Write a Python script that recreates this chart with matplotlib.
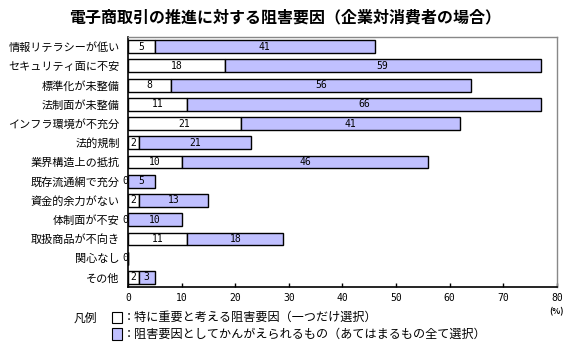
import matplotlib
matplotlib.use("Agg")
import matplotlib.pyplot as plt
from matplotlib.patches import Rectangle

plt.rcParams['font.family'] = ['Noto Sans CJK JP', 'DejaVu Sans']

categories = ['情報リテラシーが低い', 'セキュリティ面に不安', '標準化が未整備', '法制面が未整備',
              'インフラ環境が不充分', '法的規制', '業界構造上の抵抗', '既存流通網で充分',
              '資金的余力がない', '体制面が不安', '取扱商品が不向き', '関心なし', 'その他']
# 特に重要と考える阻害要因（一つだけ選択）
most_important = [5, 18, 8, 11, 21, 2, 10, 0, 2, 0, 11, 0, 2]
# 阻害要因としてかんがえられるもの（あてはまるもの全て選択）
all_factors = [41, 59, 56, 66, 41, 21, 46, 5, 13, 10, 18, 0, 3]
x_ticks = [0, 10, 20, 30, 40, 50, 60, 70, 80]

white = '#ffffff'
blue = '#c0c0ff'
num_font = dict(family='DejaVu Sans Mono', fontsize=7)

fig = plt.figure(figsize=(5.7, 3.5), dpi=100)
ax = fig.add_axes([0.2246, 0.18, 0.7524, 0.714])

n = len(categories)
ypos = list(range(n))
h = 0.67

ax.barh(ypos, most_important, height=h, color=white, edgecolor='black', linewidth=1.0, zorder=3)
ax.barh(ypos, all_factors, left=most_important, height=h, color=blue, edgecolor='black',
        linewidth=1.0, zorder=3)

for y, a, b in zip(ypos, most_important, all_factors):
    if a > 0:
        ax.text(a / 2, y, str(a), ha='center', va='center', zorder=4, **num_font)
    else:
        ax.text(0.1, y, '0', ha='right', va='center', zorder=2, clip_on=False, **num_font)
    if b > 0:
        ax.text(a + b / 2, y, str(b), ha='center', va='center', zorder=4, **num_font)

ax.set_xlim(0, 80)
ax.set_ylim(n - 0.5, -0.5)
ax.set_xticks(x_ticks)
ax.set_xticklabels([str(t) for t in x_ticks], **num_font)
ax.set_yticks(ypos)
ax.set_yticklabels(categories, fontsize=8)
ax.tick_params(axis='y', length=0, pad=6)
ax.tick_params(axis='x', direction='in', length=3, pad=4, width=1)

for side in ['top', 'right']:
    ax.spines[side].set_color('#888888')
    ax.spines[side].set_linewidth(1.0)
for side in ['left', 'bottom']:
    ax.spines[side].set_color('black')
    ax.spines[side].set_linewidth(1.2)

ax.text(80, -0.08, '(%)', transform=ax.get_xaxis_transform(), ha='center', va='top',
        fontsize=6, fontweight='bold')

fig.text(0.5, 0.95, '電子商取引の推進に対する阻害要因（企業対消費者の場合）', ha='center',
         va='center', fontsize=11.5, fontweight='bold')

# 凡例
fig.text(0.130, 0.092, '凡例', ha='left', va='center', fontsize=8.5)
fig.patches.append(Rectangle((0.196, 0.076), 0.018, 0.032, transform=fig.transFigure,
                             facecolor=white, edgecolor='black', linewidth=0.8))
fig.patches.append(Rectangle((0.196, 0.030), 0.018, 0.032, transform=fig.transFigure,
                             facecolor=blue, edgecolor='black', linewidth=0.8))
fig.text(0.216, 0.092, '：特に重要と考える阻害要因（一つだけ選択）', ha='left', va='center',
         fontsize=8.7)
fig.text(0.216, 0.046, '：阻害要因としてかんがえられるもの（あてはまるもの全て選択）', ha='left',
         va='center', fontsize=8.7)

fig.savefig('out.png', dpi=100)
